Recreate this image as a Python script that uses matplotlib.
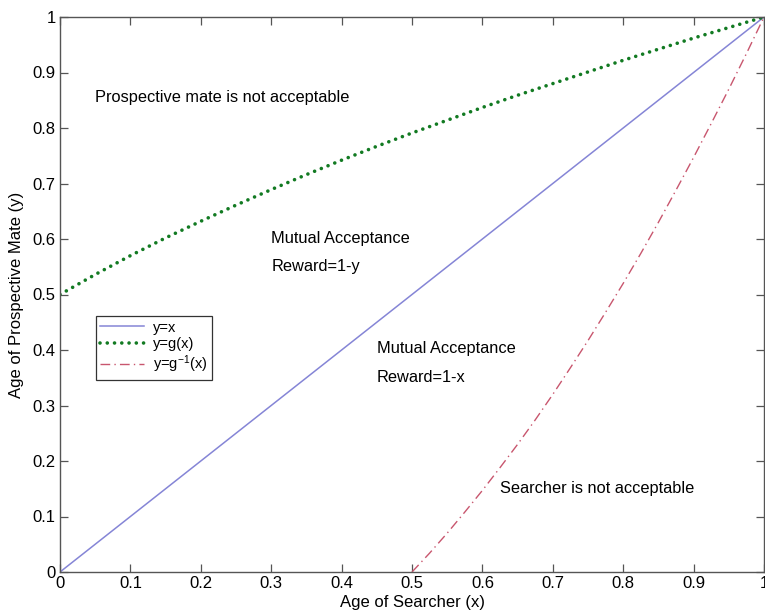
import matplotlib
matplotlib.use("Agg")
import matplotlib.pyplot as plt

plt.rcParams['font.family'] = ['Liberation Sans', 'DejaVu Sans']
plt.rcParams['mathtext.default'] = 'regular'

# y = x
x_line = [0.0, 1.0]
y_line = [0.0, 1.0]

# y = g(x)
x_g = [0.0, 0.05, 0.1, 0.15, 0.2, 0.25, 0.3, 0.35, 0.4, 0.45, 0.5,
       0.55, 0.6, 0.65, 0.7, 0.75, 0.8, 0.85, 0.9, 0.95, 1.0]
y_g = [0.5, 0.536, 0.570, 0.602, 0.632, 0.661, 0.689, 0.716, 0.742, 0.767, 0.791,
       0.814, 0.837, 0.859, 0.880, 0.901, 0.922, 0.942, 0.962, 0.981, 1.0]

# y = g^-1(x)
x_ginv = [0.5, 0.525, 0.55, 0.575, 0.6, 0.625, 0.65, 0.675, 0.7, 0.725, 0.75,
          0.775, 0.8, 0.825, 0.85, 0.875, 0.9, 0.925, 0.95, 0.975, 1.0]
y_ginv = [0.0, 0.034, 0.070, 0.108, 0.147, 0.188, 0.230, 0.274, 0.320, 0.368, 0.417,
          0.468, 0.520, 0.574, 0.630, 0.688, 0.747, 0.808, 0.870, 0.934, 1.0]

ticks = [0, 0.1, 0.2, 0.3, 0.4, 0.5, 0.6, 0.7, 0.8, 0.9, 1]
tick_labels = ['0', '0.1', '0.2', '0.3', '0.4', '0.5', '0.6', '0.7', '0.8', '0.9', '1']

fig = plt.figure(figsize=(7.65, 6.14), dpi=100)
ax = fig.add_axes([60/765, 42/614, 704/765, 555/614])

ax.plot(x_line, y_line, color='#8585d6', lw=1.1, label='y=x')
ax.plot(x_g, y_g, color='#127a22', lw=2.6, linestyle=(0, (0.01, 2.0)),
        dash_capstyle='round', label='y=g(x)')
ax.plot(x_ginv, y_ginv, color='#c8566e', lw=1.0, linestyle=(0, (7, 3, 1, 3)),
        label='y=g$^{-1}$(x)')

ax.set_xlim(0, 1)
ax.set_ylim(0, 1)
ax.set_xticks(ticks)
ax.set_xticklabels(tick_labels)
ax.set_yticks(ticks)
ax.set_yticklabels(tick_labels)
ax.tick_params(direction='in', length=6, width=0.9, color='#555555',
               top=True, right=True, labelsize=12, pad=3)
for s in ax.spines.values():
    s.set_color('#555555')
    s.set_linewidth(1.0)

ax.set_xlabel('Age of Searcher (x)', fontsize=12, labelpad=3)
ax.set_ylabel('Age of Prospective Mate (y)', fontsize=12, labelpad=6)

fs = 11.8
ax.text(0.05, 0.855, 'Prospective mate is not acceptable', fontsize=fs, va='center', ha='left')
ax.text(0.30, 0.600, 'Mutual Acceptance', fontsize=fs, va='center', ha='left')
ax.text(0.30, 0.550, 'Reward=1-y', fontsize=fs, va='center', ha='left')
ax.text(0.45, 0.402, 'Mutual Acceptance', fontsize=fs, va='center', ha='left')
ax.text(0.45, 0.351, 'Reward=1-x', fontsize=fs, va='center', ha='left')
ax.text(0.625, 0.150, 'Searcher is not acceptable', fontsize=fs, va='center', ha='left')

leg = ax.legend(loc='upper left', bbox_to_anchor=(0.051, 0.461), borderaxespad=0,
                fontsize=10.5, frameon=True, fancybox=False, edgecolor='black',
                handlelength=3.0, labelspacing=0.18, borderpad=0.3, handletextpad=0.6)
leg.get_frame().set_linewidth(0.9)

fig.savefig('out.png', dpi=100)
